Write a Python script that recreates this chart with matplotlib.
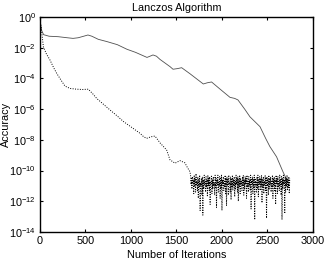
import numpy as np
import matplotlib
matplotlib.use("Agg")
import matplotlib.pyplot as plt
from matplotlib.ticker import FixedLocator, NullLocator

plt.rcParams['font.family'] = ['Liberation Sans', 'DejaVu Sans']
plt.rcParams['mathtext.fontset'] = 'custom'
plt.rcParams['mathtext.rm'] = 'Liberation Sans'
plt.rcParams['mathtext.it'] = 'Liberation Sans'

# Solid curve (log10 of accuracy)
solid_iter = [0, 20, 40, 100, 200, 300, 363, 420, 480, 527, 570, 640, 736, 850, 956, 1050,
              1176, 1210, 1242, 1280, 1319, 1429, 1462, 1510, 1557, 1650, 1795, 1840, 1886,
              1980, 2088, 2140, 2176, 2250, 2308, 2418, 2480, 2527, 2600, 2670, 2720]
solid_log = [-0.3, -0.9, -1.15, -1.25, -1.28, -1.35, -1.39, -1.35, -1.25, -1.17, -1.25,
             -1.45, -1.6, -1.8, -2.1, -2.3, -2.63, -2.55, -2.47, -2.55, -2.76, -3.23, -3.4,
             -3.36, -3.3, -3.7, -4.36, -4.28, -4.23, -4.7, -5.23, -5.3, -5.4, -6.0, -6.5,
             -7.14, -7.9, -8.44, -9.1, -10.07, -10.7]

# Dotted curve, smooth part
dot_iter = [10, 37, 70, 110, 150, 183, 230, 275, 330, 403, 470, 531, 580, 623, 700, 769,
            850, 916, 1000, 1099, 1140, 1172, 1220, 1264, 1320, 1392, 1429, 1484, 1538,
            1593, 1620, 1648]
dot_log = [-0.5, -1.93, -2.4, -2.8, -3.3, -3.66, -4.1, -4.5, -4.65, -4.7, -4.72, -4.7,
           -5.0, -5.3, -5.7, -6.05, -6.45, -6.8, -7.15, -7.57, -7.8, -7.9, -7.8, -7.75,
           -8.2, -8.66, -9.3, -9.52, -9.35, -9.5, -9.8, -10.07]

# Dotted curve, noisy plateau (every 5 iterations from 1655 to 2745)
noise_start = 1655
noise_step = 5
noise_log = [
    -10.3, -10.9, -10.5, -11.2, -10.4, -10.8, -10.6, -11.5, -10.3, -11.0,
    -10.5, -11.4, -10.2, -10.9, -10.7, -11.3, -10.4, -11.8, -10.6, -11.1,
    -10.3, -12.6, -10.8, -11.0, -10.5, -11.6, -10.4, -12.9, -10.6, -11.2,
    -10.3, -10.9, -10.7, -11.4, -10.4, -11.1, -10.6, -11.7, -10.3, -11.0,
    -10.5, -11.3, -10.4, -12.2, -10.7, -10.9, -10.3, -11.5, -10.6, -11.2,
    -10.4, -11.0, -10.8, -11.6, -10.3, -11.1, -10.5, -12.4, -10.6, -10.9,
    -10.3, -11.4, -10.7, -11.0, -10.4, -11.8, -10.5, -11.2, -10.3, -12.6,
    -10.6, -10.9, -10.4, -11.3, -10.7, -11.1, -10.3, -11.5, -10.5, -12.3,
    -10.4, -11.0, -10.6, -11.6, -10.3, -10.9, -10.8, -11.4, -10.4, -11.9,
    -10.5, -11.1, -10.3, -11.3, -10.6, -11.0, -10.4, -11.7, -10.7, -11.2,
    -10.3, -10.9, -10.5, -11.4, -10.4, -12.0, -10.6, -11.1, -10.3, -11.5,
    -10.5, -10.9, -10.7, -11.3, -10.4, -11.0, -10.3, -11.6, -10.6, -11.2,
    -10.4, -10.9, -10.5, -11.8, -10.3, -11.1, -10.7, -11.4, -10.4, -11.0,
    -10.6, -11.3, -10.3, -12.5, -10.5, -10.9, -10.4, -11.5, -10.6, -11.1,
    -10.3, -13.2, -10.5, -11.0, -10.7, -11.4, -10.4, -11.2, -10.3, -11.7,
    -10.6, -10.9, -10.4, -11.3, -10.5, -11.0, -10.3, -12.1, -10.6, -11.1,
    -10.4, -11.5, -10.7, -10.9, -10.3, -11.3, -10.5, -13.1, -10.4, -11.0,
    -10.6, -11.6, -10.3, -11.2, -10.5, -10.9, -10.4, -11.4, -10.7, -11.1,
    -10.3, -11.8, -10.5, -11.0, -10.4, -11.3, -10.6, -12.2, -10.3, -10.9,
    -10.5, -11.5, -10.4, -11.1, -10.7, -11.3, -10.3, -11.0, -10.6, -11.6,
    -10.4, -13.2, -10.5, -11.2, -10.3, -10.9, -10.6, -12.8, -10.4, -11.4,
    -10.5, -11.0, -10.3, -11.3, -10.6, -11.1, -10.4, -11.5, -10.5,
]

x_ticks = [0, 500, 1000, 1500, 2000, 2500, 3000]
y_exps = [0, -2, -4, -6, -8, -10, -12, -14]

noise_iter = [noise_start + noise_step * i for i in range(len(noise_log))]
d_iter = np.array(dot_iter + noise_iter, dtype=float)
d_val = 10.0 ** np.array(dot_log + noise_log)
s_iter = np.array(solid_iter, dtype=float)
s_val = 10.0 ** np.array(solid_log)

FS = 7.8
fig = plt.figure(figsize=(3.27, 2.62), dpi=100)
ax = fig.add_axes([0.1223, 0.1145, 0.8347, 0.8205])
ax.semilogy(s_iter, s_val, color='#505050', lw=0.6)
ax.semilogy(d_iter, d_val, color='black', lw=0.7, linestyle=(0, (1, 1.5)))

ax.set_xlim(0, 3000)
ax.set_ylim(1e-14, 1e0)
ax.xaxis.set_major_locator(FixedLocator(x_ticks))
ax.set_xticklabels([str(t) for t in x_ticks])
ax.yaxis.set_major_locator(FixedLocator([10.0 ** e for e in y_exps]))
ax.set_yticklabels([r'$10^{%d}$' % e for e in y_exps])
ax.yaxis.set_minor_locator(NullLocator())
ax.xaxis.set_minor_locator(NullLocator())
ax.tick_params(direction='in', length=2.5, width=0.8, top=True, right=True,
               labelsize=FS, pad=3)
for sp in ax.spines.values():
    sp.set_linewidth(1.0)

ax.set_title('Lanczos Algorithm', fontsize=FS, pad=4)
ax.set_xlabel('Number of Iterations', fontsize=FS, labelpad=3)
ax.set_ylabel('Accuracy', fontsize=FS)
ax.yaxis.set_label_coords(-0.105, 0.5)

fig.savefig('out.png', dpi=100)
